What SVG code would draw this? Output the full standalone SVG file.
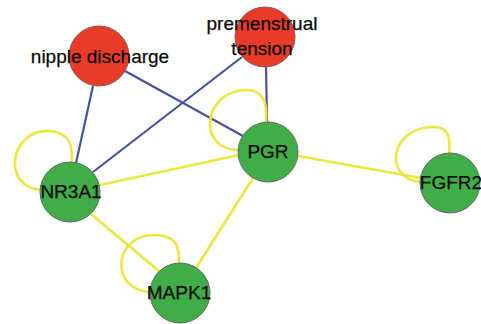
<svg xmlns="http://www.w3.org/2000/svg" width="481" height="324" viewBox="0 0 481 324">
  <style>
    .bg { fill: #ffffff; }
    .blue { stroke: #4652a0; stroke-width: 2.2; fill: none; }
    .yellow { stroke: #ece73a; stroke-width: 2.6; fill: none; }
    .disease { fill: #e83c28; stroke: #8a5a55; stroke-width: 1; }
    .gene { fill: #41ad48; stroke: #5e6b5e; stroke-width: 1; }
    .label { font-family: "Liberation Sans", Arial, sans-serif; font-size: 19px; fill: #0a0a0a; stroke: #0a0a0a; stroke-width: 0.25; text-anchor: middle; }
  </style>
  <rect class="bg" x="0" y="0" width="481" height="324"/>

  <g id="connectors">
    <!-- disease–gene links -->
    <line class="blue" x1="93" y1="86" x2="76" y2="163"/>
    <line class="blue" x1="125" y1="71" x2="243" y2="136"/>
    <line class="blue" x1="242" y1="57" x2="93" y2="172"/>
    <line class="blue" x1="266" y1="67" x2="267" y2="122"/>
    <!-- gene–gene links -->
    <line class="yellow" x1="100" y1="185" x2="239" y2="155"/>
    <line class="yellow" x1="91" y1="214" x2="160" y2="272"/>
    <line class="yellow" x1="253" y1="178" x2="196" y2="268"/>
    <line class="yellow" x1="298" y1="156" x2="421" y2="178"/>
    <!-- self loops -->
    <path class="yellow" d="M 42 190 C 0 188, 10 128, 50 131 C 73 133, 72 150, 72 162"/>
    <path class="yellow" d="M 239 150 C 196 150, 203 91, 246 90 C 266 90, 267 106, 266 122"/>
    <path class="yellow" d="M 421 182 C 384 180, 388 127, 434 127 C 451 127, 450 142, 449 153"/>
    <path class="yellow" d="M 150 292 C 110 290, 112 235, 155 235 C 180 235, 179 252, 179 264"/>
  </g>

  <g id="nipple-discharge">
    <circle class="disease" cx="99" cy="56" r="30"/>
    <text class="label" x="100" y="63">nipple discharge</text>
  </g>
  <g id="premenstrual-tension">
    <circle class="disease" cx="265" cy="37" r="30"/>
    <text class="label" x="262" y="30">premenstrual</text>
    <text class="label" x="262" y="55">tension</text>
  </g>
  <g id="PGR">
    <circle class="gene" cx="268" cy="152" r="30"/>
    <text class="label" x="268" y="158">PGR</text>
  </g>
  <g id="FGFR2">
    <circle class="gene" cx="450" cy="183" r="30"/>
    <text class="label" x="451" y="189">FGFR2</text>
  </g>
  <g id="NR3A1">
    <circle class="gene" cx="70" cy="192" r="30"/>
    <text class="label" x="71" y="198">NR3A1</text>
  </g>
  <g id="MAPK1">
    <circle class="gene" cx="180" cy="293" r="30"/>
    <text class="label" x="179" y="299">MAPK1</text>
  </g>
</svg>
